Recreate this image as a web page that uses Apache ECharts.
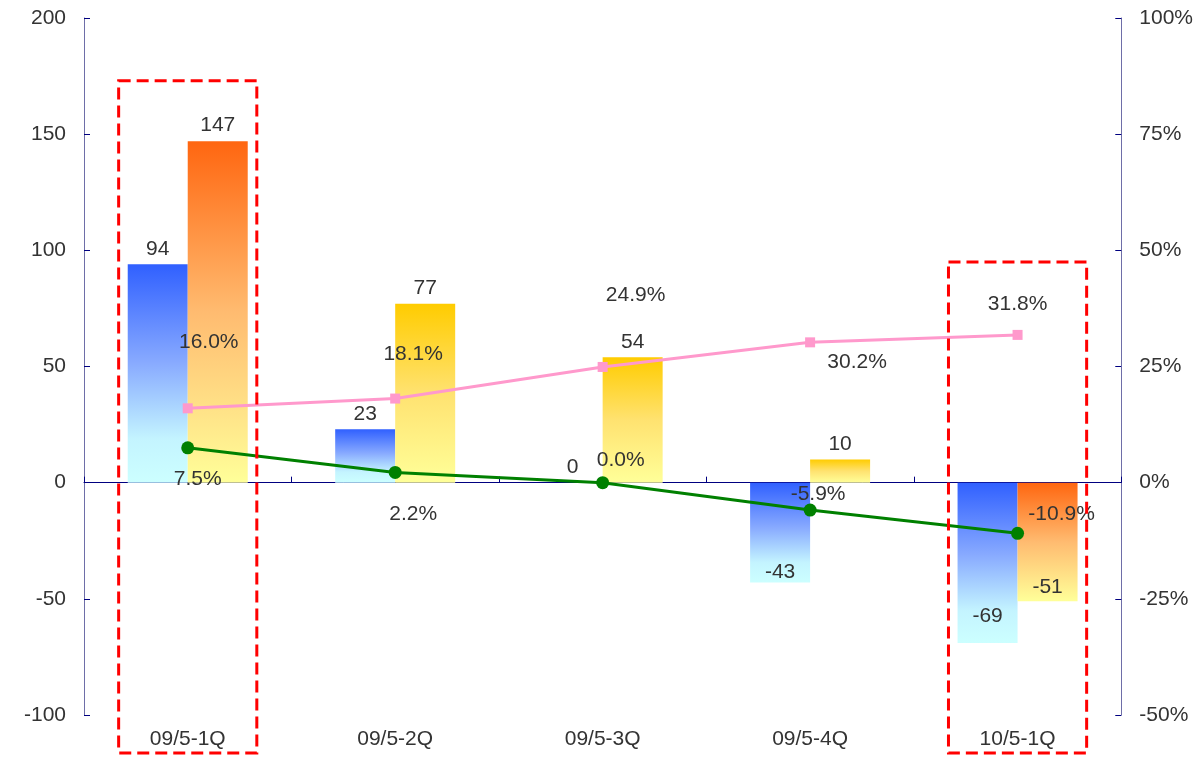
<!DOCTYPE html>
<html>
<head>
<meta charset="utf-8">
<script src="https://cdn.jsdelivr.net/npm/echarts@6/dist/echarts.min.js"></script>
<style>
  html, body { margin: 0; padding: 0; background: #fff; }
  #chart { width: 1196px; height: 757px; }
</style>
</head>
<body>
<div id="chart"></div>
<script>
// Quarterly values (left axis) and rates in % (right axis)
const categories = ['09/5-1Q', '09/5-2Q', '09/5-3Q', '09/5-4Q', '10/5-1Q'];
const blueValues = [94, 23, 0, -43, -69];
const orangeValues = [147, 77, 54, 10, -51];
const pinkRates = [16.0, 18.1, 24.9, 30.2, 31.8];
const greenRates = [7.5, 2.2, 0.0, -5.9, -10.9];
const leftTicks = [-100, -50, 0, 50, 100, 150, 200];
const rightTicks = [-50, -25, 0, 25, 50, 75, 100];
// quarters framed by a dashed box, with the box top on the left scale
const highlighted = [0, 4];
const highlightTops = [173, 95];

const FONT = '"Liberation Sans", Arial, sans-serif';
const TEXT = '#333333';
const FONT_SIZE = 21;

const blueFill = new echarts.graphic.LinearGradient(0, 0, 0, 1, [
  { offset: 0, color: '#3060ff' },
  { offset: 0.45, color: '#88aaff' },
  { offset: 0.8, color: '#c4f4ff' },
  { offset: 1, color: '#ccffff' }
]);
const orangeFill = () => new echarts.graphic.LinearGradient(0, 0, 0, 1, [
  { offset: 0, color: '#ff6610' },
  { offset: 0.5, color: '#ffbb70' },
  { offset: 1, color: '#ffff99' }
]);
const yellowFill = () => new echarts.graphic.LinearGradient(0, 0, 0, 1, [
  { offset: 0, color: '#ffcc00' },
  { offset: 0.5, color: '#ffe270' },
  { offset: 1, color: '#ffff99' }
]);

// label placement tweaks per point (pixels)
const blueLabelDist = [5, 5, 5, 0, 16];
const orangeLabelDist = [5, 5, 5, 5, 3];
const pinkLabelOffsets = [[21, -66], [18, -44], [33, -72], [47, 20], [0, -31]];
const greenLabelOffsets = [[10, 31], [18, 42], [18, -22], [8, -16], [44, -19]];

const labelBase = { color: TEXT, fontSize: FONT_SIZE, fontFamily: FONT };

const blueData = blueValues.map((v, i) => ({
  value: v,
  itemStyle: { color: blueFill },
  label: { position: v < 0 ? 'insideBottom' : 'top', distance: blueLabelDist[i] }
}));
const orangeData = orangeValues.map((v, i) => ({
  value: v,
  itemStyle: { color: highlighted.includes(i) ? orangeFill() : yellowFill() },
  label: { position: v < 0 ? 'insideBottom' : 'top', distance: orangeLabelDist[i] }
}));
const pinkData = pinkRates.map((v, i) => ({
  value: v,
  label: { position: 'inside', offset: pinkLabelOffsets[i] }
}));
const greenData = greenRates.map((v, i) => ({
  value: v,
  label: { position: 'inside', offset: greenLabelOffsets[i] }
}));

const chart = echarts.init(document.getElementById('chart'), null, { renderer: 'canvas' });

const axisLabelStyle = { color: TEXT, fontSize: FONT_SIZE, fontFamily: FONT };

chart.setOption({
  animation: false,
  backgroundColor: '#ffffff',
  grid: { left: 84, right: 73, top: 18, bottom: 42, containLabel: false },
  xAxis: [
    {
      type: 'category',
      data: categories,
      axisLine: { show: false, onZero: false },
      axisTick: { show: false },
      axisLabel: Object.assign({ margin: 14 }, axisLabelStyle)
    },
    {
      type: 'category',
      data: categories,
      position: 'bottom',
      axisLine: { show: true, onZero: true, lineStyle: { color: '#000080', width: 1 } },
      axisTick: { show: true, inside: true, length: 6, lineStyle: { color: '#000080' } },
      axisLabel: { show: false }
    }
  ],
  yAxis: [
    {
      type: 'value',
      min: leftTicks[0],
      max: leftTicks[leftTicks.length - 1],
      interval: leftTicks[1] - leftTicks[0],
      axisLine: { show: true, lineStyle: { color: '#6e6ea8', width: 1 } },
      axisTick: { show: true, inside: true, length: 6, lineStyle: { color: '#000080' } },
      splitLine: { show: false },
      axisLabel: Object.assign({ margin: 18 }, axisLabelStyle)
    },
    {
      type: 'value',
      position: 'right',
      min: rightTicks[0],
      max: rightTicks[rightTicks.length - 1],
      interval: rightTicks[1] - rightTicks[0],
      axisLine: { show: true, lineStyle: { color: '#6e6ea8', width: 1 } },
      axisTick: { show: true, inside: true, length: 6, lineStyle: { color: '#000080' } },
      splitLine: { show: false },
      axisLabel: Object.assign({ margin: 18, formatter: '{value}%' }, axisLabelStyle)
    }
  ],
  series: [
    {
      name: 'blue',
      type: 'bar',
      xAxisIndex: 0,
      yAxisIndex: 0,
      barWidth: 60,
      barGap: '0%',
      data: blueData,
      label: Object.assign({ show: true }, labelBase),
      z: 2
    },
    {
      name: 'orange',
      type: 'bar',
      xAxisIndex: 0,
      yAxisIndex: 0,
      barWidth: 60,
      barGap: '0%',
      data: orangeData,
      label: Object.assign({ show: true }, labelBase),
      z: 2
    },
    {
      name: 'pink',
      type: 'line',
      xAxisIndex: 0,
      yAxisIndex: 1,
      data: pinkData,
      symbol: 'rect',
      symbolSize: 10,
      lineStyle: { color: '#ff99cc', width: 3 },
      itemStyle: { color: '#ff99cc' },
      label: Object.assign({ show: true, formatter: p => p.value.toFixed(1) + '%' }, labelBase),
      z: 4
    },
    {
      name: 'green',
      type: 'line',
      xAxisIndex: 0,
      yAxisIndex: 1,
      data: greenData,
      symbol: 'circle',
      symbolSize: 13,
      lineStyle: { color: '#008000', width: 3 },
      itemStyle: { color: '#008000' },
      label: Object.assign({ show: true, formatter: p => p.value.toFixed(1) + '%' }, labelBase),
      z: 4
    }
  ]
});

// dashed frames around the highlighted quarters, placed through the axes
function drawFrames() {
  const c0 = chart.convertToPixel({ xAxisIndex: 0 }, categories[0]);
  const c1 = chart.convertToPixel({ xAxisIndex: 0 }, categories[1]);
  const band = c1 - c0;
  const bottomY = chart.convertToPixel({ yAxisIndex: 0 }, leftTicks[0]) + 38;
  const frames = highlighted.map((idx, k) => {
    const cx = chart.convertToPixel({ xAxisIndex: 0 }, categories[idx]);
    const topY = chart.convertToPixel({ yAxisIndex: 0 }, highlightTops[k]);
    const half = band * 0.333;
    return {
      type: 'rect',
      z: 10,
      shape: { x: cx - half, y: topY, width: half * 2, height: bottomY - topY },
      style: { fill: 'none', stroke: '#ff0000', lineWidth: 3, lineDash: [12, 6] },
      silent: true
    };
  });
  chart.setOption({ graphic: frames });
}
drawFrames();
</script>
</body>
</html>
